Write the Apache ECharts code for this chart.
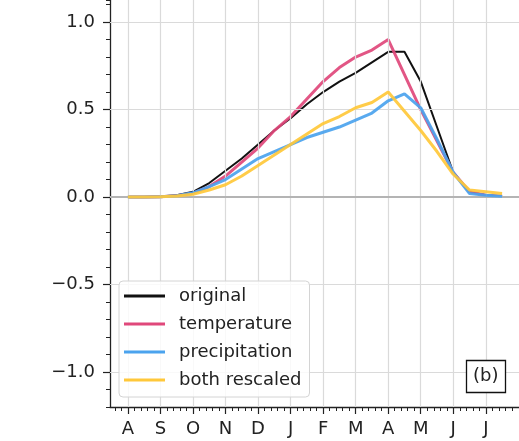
<!DOCTYPE html>
<html>
<head>
<meta charset="UTF-8">
<title>chart</title>
<script src="https://cdn.jsdelivr.net/npm/echarts@6/dist/echarts.min.js"></script>
</head>
<body style="margin:0; background:#fff">
<div id="container" style="width:519px; height:441px"></div>
<script type="text/javascript">
// month position (0 = August), half-month steps
var monthPos = [0, 0.5, 1, 1.5, 2, 2.5, 3, 3.5, 4, 4.5, 5, 5.5, 6, 6.5, 7, 7.5, 8, 8.5, 9, 9.5, 10, 10.5, 11, 11.5];
var monthLabels = ['A', 'S', 'O', 'N', 'D', 'J', 'F', 'M', 'A', 'M', 'J', 'J'];
var seriesNames = ['original', 'temperature', 'precipitation', 'both rescaled'];

var original      = [0, 0, 0.003, 0.01, 0.03, 0.08, 0.15, 0.22, 0.30, 0.38, 0.45, 0.53, 0.60, 0.66, 0.71, 0.77, 0.83, 0.83, 0.66, 0.40, 0.14, 0.03, 0.01, 0.005];
var temperature   = [0, 0, 0.002, 0.008, 0.022, 0.06, 0.12, 0.20, 0.28, 0.38, 0.46, 0.56, 0.66, 0.74, 0.80, 0.84, 0.90, 0.70, 0.50, 0.32, 0.14, 0.03, 0.01, 0.005];
var precipitation = [0, 0, 0.002, 0.008, 0.024, 0.06, 0.10, 0.16, 0.22, 0.26, 0.30, 0.34, 0.37, 0.40, 0.44, 0.48, 0.55, 0.59, 0.51, 0.33, 0.14, 0.02, 0.01, 0.005];
var bothRescaled  = [0, 0, 0.002, 0.006, 0.016, 0.04, 0.07, 0.12, 0.18, 0.24, 0.30, 0.36, 0.42, 0.46, 0.51, 0.54, 0.60, 0.49, 0.38, 0.26, 0.13, 0.04, 0.03, 0.02];

var yMajor = [-1, -0.5, 0, 0.5, 1];

var colors = ['#111111', '#e0487b', '#4ba3ee', '#ffc83a'];
var widths = [2, 3, 3, 3];
var values = [original, temperature, precipitation, bothRescaled];

var font = 'DejaVu Sans';

var minorX = [];
for (var t = -0.4; t < 12.1; t += 0.2) {
    var r = Math.round(t * 10) / 10;
    if (Math.abs(r - Math.round(r)) > 0.01) minorX.push(r);
}
var monthTicks = monthLabels.map(function (m, i) { return i; });

var dom = document.getElementById('container');
var myChart = echarts.init(dom, null, {renderer: 'canvas'});

var series = [];
// grid lines
series.push({
    name: 'grid',
    type: 'line',
    data: [],
    silent: true,
    z: 1,
    markLine: {
        silent: true,
        symbol: 'none',
        animation: false,
        label: {show: false},
        lineStyle: {color: '#dadada', width: 1.2, type: 'solid'},
        data: monthTicks.map(function (m) { return {xAxis: m}; })
            .concat(yMajor.filter(function (v) { return v !== 0; }).map(function (v) { return {yAxis: v}; }))
    }
});
series.push({
    name: 'zero',
    type: 'line',
    data: [],
    silent: true,
    z: 1,
    markLine: {
        silent: true,
        symbol: 'none',
        animation: false,
        label: {show: false},
        lineStyle: {color: '#b4b4b4', width: 2, type: 'solid'},
        data: [{yAxis: 0}]
    }
});
seriesNames.forEach(function (name, i) {
    series.push({
        name: name,
        type: 'line',
        z: 3 + i,
        showSymbol: false,
        symbol: 'none',
        animation: false,
        color: colors[i],
        lineStyle: {color: colors[i], width: widths[i], opacity: i === 0 ? 1 : 0.92},
        data: values[i].map(function (v, k) { return [monthPos[k], v]; })
    });
});

var option = {
    backgroundColor: '#fff',
    animation: false,
    textStyle: {fontFamily: font},
    grid: {left: 110, top: 0, right: 0, height: 407, containLabel: false},
    xAxis: [{
        type: 'value',
        min: -0.55,
        max: 12.02,
        axisLine: {show: true, onZero: false, lineStyle: {color: '#222', width: 1.3}},
        axisTick: {show: true, customValues: monthTicks, length: 7, lineStyle: {color: '#222', width: 1.2}},
        axisLabel: {
            customValues: monthTicks,
            margin: 13,
            color: '#222',
            fontSize: 18,
            fontFamily: font,
            formatter: function (v) { return monthLabels[Math.round(v)] || ''; }
        },
        splitLine: {show: false}
    }, {
        type: 'value',
        min: -0.55,
        max: 12.02,
        position: 'bottom',
        axisLine: {show: false, onZero: false},
        axisTick: {show: true, customValues: minorX, length: 4, lineStyle: {color: '#222', width: 1}},
        axisLabel: {show: false},
        splitLine: {show: false}
    }],
    yAxis: [{
        type: 'value',
        min: -1.2,
        max: 1.126,
        interval: 0.1,
        axisLine: {show: true, onZero: false, lineStyle: {color: '#222', width: 1.3}},
        axisTick: {show: true, length: 4, lineStyle: {color: '#222', width: 1}},
        axisLabel: {show: false},
        splitLine: {show: false}
    }, {
        type: 'value',
        min: -1.2,
        max: 1.126,
        position: 'left',
        offset: 0,
        axisLine: {show: false, onZero: false},
        axisTick: {show: true, customValues: yMajor, length: 7, lineStyle: {color: '#222', width: 1.2}},
        axisLabel: {
            customValues: yMajor,
            margin: 15,
            color: '#222',
            fontSize: 18,
            fontFamily: font,
            formatter: function (v) { return v.toFixed(1).replace('-', '\u2212'); }
        },
        splitLine: {show: false}
    }],
    legend: {
        data: seriesNames,
        orient: 'vertical',
        left: 119,
        top: 281,
        padding: [6, 8, 8, 5],
        itemWidth: 41,
        itemHeight: 3,
        itemGap: 10,
        icon: 'rect',
        backgroundColor: 'rgba(255,255,255,0.82)',
        borderColor: '#d4d4d4',
        borderWidth: 1,
        borderRadius: 4,
        z: 10,
        textStyle: {fontSize: 18, lineHeight: 18, color: '#222', fontFamily: font, padding: [0, 0, 0, 9]}
    },
    title: {
        text: '(b)',
        left: 466,
        top: 360,
        padding: [7, 7],
        backgroundColor: '#fff',
        borderColor: '#111',
        borderWidth: 1.3,
        z: 10,
        textStyle: {fontSize: 18, lineHeight: 19, fontWeight: 'normal', color: '#222', fontFamily: font}
    },
    series: series
};

myChart.setOption(option, true);
</script>
</body>
</html>
